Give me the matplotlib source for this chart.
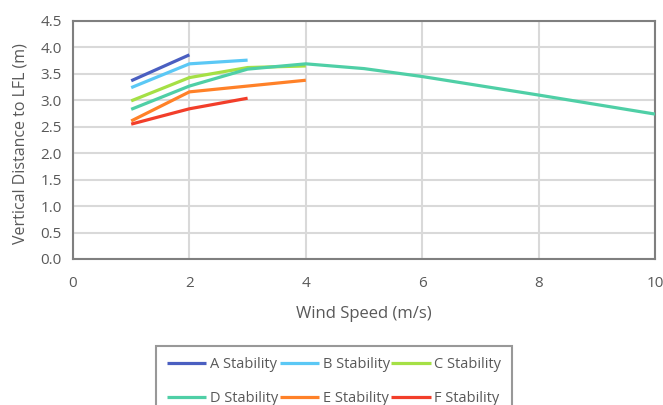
import matplotlib
matplotlib.use("Agg")
import matplotlib.pyplot as plt

plt.rcParams['font.family'] = ['Open Sans', 'DejaVu Sans']

# Wind speed (m/s) and vertical distance to LFL (m) per stability class
a_x = [1, 2]
a_y = [3.37, 3.86]
b_x = [1, 2, 3]
b_y = [3.24, 3.69, 3.76]
c_x = [1, 2, 3, 4]
c_y = [2.99, 3.43, 3.62, 3.65]
d_x = [1, 2, 3, 4, 5, 6, 8, 10]
d_y = [2.83, 3.27, 3.59, 3.69, 3.60, 3.45, 3.10, 2.74]
e_x = [1, 2, 3, 4]
e_y = [2.61, 3.16, 3.27, 3.38]
f_x = [1, 2, 3]
f_y = [2.55, 2.84, 3.04]

labels = ["A Stability", "B Stability", "C Stability",
          "D Stability", "E Stability", "F Stability"]
colors = ["#4A5FC1", "#5BC8F5", "#A5E045", "#4FCFA6", "#FF8128", "#F23E2A"]

x_ticks = [0, 2, 4, 6, 8, 10]
y_ticks = [0.0, 0.5, 1.0, 1.5, 2.0, 2.5, 3.0, 3.5, 4.0, 4.5]

W, H = 663, 405
fig = plt.figure(figsize=(W / 100, H / 100), dpi=100)
ax = fig.add_axes([73 / W, 1 - 259 / H, 582 / W, 238 / H])

series = [(a_x, a_y), (b_x, b_y), (c_x, c_y), (d_x, d_y), (e_x, e_y), (f_x, f_y)]
lines = []
for (xs, ys), lab, col in zip(series, labels, colors):
    ln, = ax.plot(xs, ys, color=col, lw=2.3, label=lab, solid_capstyle='butt', zorder=3)
    lines.append(ln)

ax.set_xlim(0, 10)
ax.set_ylim(0, 4.5)
ax.set_xticks(x_ticks)
ax.set_yticks(y_ticks)
ax.set_yticklabels([f"{v:.1f}" for v in y_ticks])

text_col = "#595959"
ax.grid(True, color="#D9D9D9", lw=1.5, zorder=0)
ax.set_axisbelow(True)
for s in ax.spines.values():
    s.set_color("#7F7F7F")
    s.set_linewidth(1.5)
ax.tick_params(length=0, labelsize=11, colors=text_col)
ax.tick_params(axis='x', pad=12)
ax.tick_params(axis='y', pad=8)

ax.set_xlabel("Wind Speed (m/s)", fontsize=12, color=text_col, labelpad=11)
ax.set_ylabel("Vertical Distance to LFL (m)", fontsize=11.5, color=text_col)
ax.yaxis.set_label_coords(-0.077, 0.485)

# three columns filled row by row
order = [0, 3, 1, 4, 2, 5]
leg = fig.legend([lines[i] for i in order], [labels[i] for i in order],
                 loc='upper left', bbox_to_anchor=(156 / W, 1 - 346 / H),
                 ncol=3, fontsize=10.5, frameon=True, fancybox=False,
                 handlelength=2.7, handletextpad=0.25, columnspacing=0.1,
                 labelspacing=1.3, borderpad=0.75, borderaxespad=0)
leg.get_frame().set_edgecolor("#7F7F7F")
leg.get_frame().set_linewidth(1.5)
for t in leg.get_texts():
    t.set_color(text_col)

fig.savefig("out.png", dpi=100)
